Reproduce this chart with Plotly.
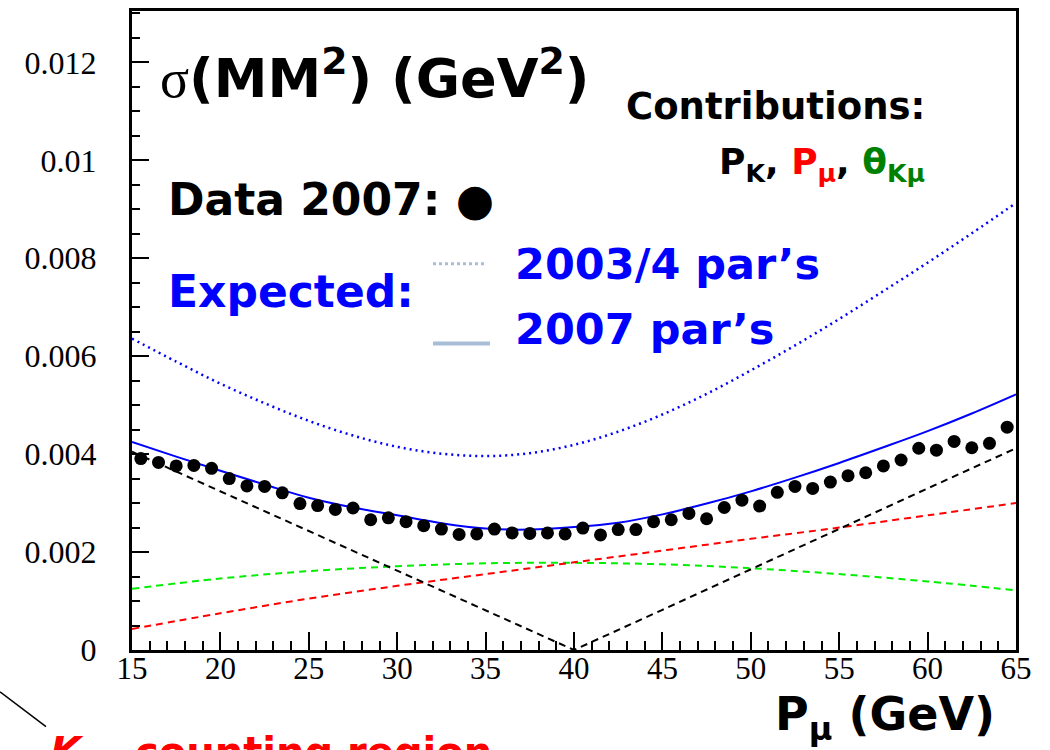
import plotly.graph_objects as go

# Measured MM^2 resolution per 1 GeV muon-momentum bin (GeV^2)
p_mu_bins = [15.5 + i for i in range(50)]
sigma_data = [
    0.00391, 0.00383, 0.00376, 0.00377, 0.00371, 0.00350, 0.00335, 0.00334, 0.00321, 0.00299,
    0.00295, 0.00287, 0.00290, 0.00266, 0.00270, 0.00262, 0.00254, 0.00247, 0.00236, 0.00237,
    0.00247, 0.00239, 0.00238, 0.00239, 0.00237, 0.00249, 0.00235, 0.00246, 0.00246, 0.00262,
    0.00266, 0.00279, 0.00268, 0.00291, 0.00306, 0.00294, 0.00322, 0.00334, 0.00330, 0.00343,
    0.00356, 0.00362, 0.00376, 0.00388, 0.00412, 0.00408, 0.00426, 0.00413, 0.00422, 0.00455,
]

# Expected resolution curves, sampled every 2.5 GeV
p_curve = [15 + 2.5 * i for i in range(21)]
expected_2007 = [
    0.00425, 0.00395, 0.00366, 0.00338, 0.00311, 0.00291, 0.00275, 0.00259, 0.00248, 0.00246,
    0.00251, 0.00260, 0.00277, 0.00299, 0.00324, 0.00352, 0.00382, 0.00414, 0.00447, 0.00483,
    0.00522,
]
expected_2003_4 = [
    0.00636, 0.00589, 0.00544, 0.00504, 0.00468, 0.00438, 0.00415, 0.00401, 0.00396, 0.00402,
    0.00419, 0.00446, 0.00481, 0.00523, 0.00571, 0.00622, 0.00676, 0.00733, 0.00791, 0.00851,
    0.00913,
]

# Individual contributions, sampled every 5 GeV
p_contrib = [15, 20, 25, 30, 35, 40, 45, 50, 55, 60, 65]
contrib_pk = [0.00405, 0.00324, 0.00243, 0.00162, 0.00081, 0.0, 0.00082, 0.00165, 0.00247, 0.00330, 0.00412]
contrib_pmu = [0.00043, 0.00075, 0.00105, 0.00131, 0.00155, 0.00179, 0.00203, 0.00227, 0.00250, 0.00275, 0.00300]
contrib_theta = [0.00125, 0.00146, 0.00161, 0.00171, 0.00177, 0.00178, 0.00175, 0.00167, 0.00155, 0.00140, 0.00122]

x_ticks = [15, 20, 25, 30, 35, 40, 45, 50, 55, 60, 65]
y_ticks = [0, 0.002, 0.004, 0.006, 0.008, 0.01, 0.012]
y_tick_text = ["0", "0.002", "0.004", "0.006", "0.008", "0.01", "0.012"]

W, H = 1050, 750
L, R, T, B = 132, 34, 8, 100
PW, PH = W - L - R, H - T - B


def px(x):
    return (x - L) / PW


def py(y):
    return (H - B - y) / PH


SANS = "DejaVu Sans"
SERIF = "Liberation Serif"
BLUE = "#0000ff"

fig = go.Figure()

fig.add_trace(go.Scatter(x=p_contrib, y=contrib_theta, mode="lines", line_shape="spline",
                         line=dict(color="#00ee00", width=2, dash="7px,5px")))
fig.add_trace(go.Scatter(x=p_contrib, y=contrib_pmu, mode="lines", line_shape="spline",
                         line=dict(color="#ff0000", width=2, dash="7px,5px")))
fig.add_trace(go.Scatter(x=p_contrib, y=contrib_pk, mode="lines",
                         line=dict(color="#000000", width=2, dash="7px,5px")))
fig.add_trace(go.Scatter(x=p_curve, y=expected_2003_4, mode="lines", line_shape="spline",
                         line=dict(color=BLUE, width=2.5, dash="2px,4px")))
fig.add_trace(go.Scatter(x=p_curve, y=expected_2007, mode="lines", line_shape="spline",
                         line=dict(color=BLUE, width=2)))
fig.add_trace(go.Scatter(x=p_mu_bins, y=sigma_data, mode="markers",
                         marker=dict(color="#000000", size=13)))

annotations = [
    dict(text="<span style=\"font-family:'Liberation Serif'\">σ</span><b>(MM<sup>2</sup>) (GeV<sup>2</sup>)</b>",
         x=px(158), y=py(72), xanchor="left", yanchor="middle",
         font=dict(family=SANS, size=54, color="#000000")),
    dict(text="<b>Data 2007: ●</b>", x=px(166), y=py(197), xanchor="left", yanchor="middle",
         font=dict(family=SANS, size=44, color="#000000")),
    dict(text="<b>Expected:</b>", x=px(166), y=py(290), xanchor="left", yanchor="middle",
         font=dict(family=SANS, size=44, color=BLUE)),
    dict(text="<b>2003/4 par’s</b>", x=px(513), y=py(262), xanchor="left", yanchor="middle",
         font=dict(family=SANS, size=43, color=BLUE)),
    dict(text="<b>2007 par’s</b>", x=px(513), y=py(327), xanchor="left", yanchor="middle",
         font=dict(family=SANS, size=43, color=BLUE)),
    dict(text="<b>Contributions:</b>", x=px(927), y=py(104), xanchor="right", yanchor="middle",
         font=dict(family=SANS, size=37, color="#000000")),
    dict(text="<b>P<sub>K</sub>, <span style=\"color:#ff0000\">P<sub>μ</sub></span>, "
              "<span style=\"color:#008000\">θ<sub>Kμ</sub></span></b>",
         x=px(927), y=py(162), xanchor="right", yanchor="middle",
         font=dict(family=SANS, size=36, color="#000000")),
    dict(text="<b>P<sub>μ</sub> (GeV)</b>", x=px(773), y=py(718), xanchor="left", yanchor="middle",
         font=dict(family=SANS, size=46, color="#000000")),
    dict(text="<b><i>K</i><sub>μ2</sub> counting region</b>", x=px(48), y=py(727),
         xanchor="left", yanchor="top",
         font=dict(family=SANS, size=40, color="#ff0000")),
]
for a in annotations:
    a.update(xref="paper", yref="paper", showarrow=False)

shapes = [
    dict(type="line", xref="paper", yref="paper", x0=px(433), x1=px(487), y0=py(262), y1=py(262),
         line=dict(color="#a8bed6", width=3, dash="3px,3px")),
    dict(type="line", xref="paper", yref="paper", x0=px(433), x1=px(490), y0=py(342), y1=py(342),
         line=dict(color="#a8bed6", width=4)),
    dict(type="line", xref="paper", yref="paper", x0=px(0), x1=px(46), y0=py(692), y1=py(727),
         line=dict(color="#000000", width=1.5)),
]

fig.update_layout(
    width=W, height=H, autosize=False,
    margin=dict(l=L, r=R, t=T, b=B),
    paper_bgcolor="white", plot_bgcolor="white",
    showlegend=False,
    annotations=annotations,
    shapes=shapes,
)
fig.update_xaxes(
    range=[15, 65], tickvals=x_ticks, ticks="inside", ticklen=18, tickwidth=2, tickcolor="black",
    minor=dict(dtick=1, ticks="inside", ticklen=9, tickwidth=1.5, tickcolor="black"),
    showline=True, linewidth=3, linecolor="black", mirror=True, showgrid=False, zeroline=False,
    tickfont=dict(family=SERIF, size=31, color="black"), ticklabelstandoff=-11,
)
fig.update_yaxes(
    range=[0, 0.01305], tickvals=y_ticks, ticktext=y_tick_text, ticks="inside", ticklen=17,
    tickwidth=2, tickcolor="black",
    minor=dict(dtick=0.0005, tick0=0, ticks="inside", ticklen=8, tickwidth=1.5, tickcolor="black"),
    showline=True, linewidth=3, linecolor="black", mirror=True, showgrid=False, zeroline=False,
    tickfont=dict(family=SERIF, size=32, color="black"), ticklabelstandoff=26,
)

fig.write_html("out.html")
